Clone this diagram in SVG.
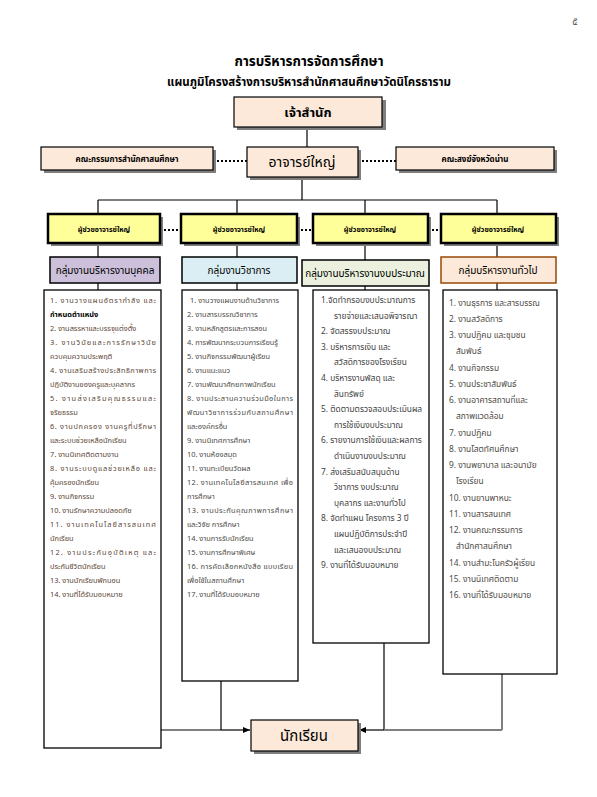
<svg xmlns="http://www.w3.org/2000/svg" width="597" height="797" viewBox="0 0 597 797">
<defs>
<style>
text{font-family:Tahoma,"Noto Sans Thai","Noto Sans","DejaVu Sans",sans-serif;}
.t{font-weight:bold;fill:#000;text-anchor:middle;}
.sh{fill:#7f7f7f;}
.peach{fill:#fde9d9;stroke:#000;stroke-width:1.2;}
.asst{fill:#ffff99;stroke:#000;stroke-width:2.5;}
.ln{stroke:#000;stroke-width:1.2;fill:none;}
.gl{stroke:#7f7f7f;stroke-width:2;fill:none;}
.dot{stroke:#000;stroke-width:2;stroke-dasharray:2 2;fill:none;}
.list{fill:#fff;stroke:#000;stroke-width:1.3;}
.c1{font-size:7.4px;fill:#5b4636;}
.c2{font-size:7.4px;fill:#4d4a46;}
.c3{font-size:8.4px;fill:#3f3f3f;}
.c4{font-size:8.4px;fill:#4f4a45;}
</style>
<marker id="ar" markerWidth="8" markerHeight="8" refX="7" refY="4" orient="auto" markerUnits="userSpaceOnUse">
<path d="M0,1 L7,4 L0,7 Z" fill="#000"/>
</marker>
</defs>
<rect width="597" height="797" fill="#fff"/>
<text x="575" y="25" style="font-size:10px;fill:#555;" text-anchor="middle">๕</text>
<text class="t" x="309" y="66" style="font-size:13.5px;">การบริหารการจัดการศึกษา</text>
<text class="t" x="309" y="86" style="font-size:11.5px;">แผนภูมิโครงสร้างการบริหารสำนักศาสนศึกษาวัดนิโครธาราม</text>

<g id="connectors">
<line class="ln" x1="307" y1="127" x2="307" y2="147"/>
<line class="dot" x1="213" y1="161" x2="247" y2="161"/>
<line class="dot" x1="358" y1="161" x2="396" y2="161"/>
<line class="ln" x1="302" y1="177" x2="302" y2="200"/>
<line class="ln" x1="98" y1="200" x2="497" y2="200"/>
<line class="ln" x1="98" y1="200" x2="98" y2="214"/>
<line class="ln" x1="237" y1="200" x2="237" y2="214"/>
<line class="ln" x1="365" y1="200" x2="365" y2="214"/>
<line class="ln" x1="497" y1="200" x2="497" y2="214"/>
<line class="dot" x1="160" y1="230" x2="181" y2="230"/>
<line class="dot" x1="297" y1="230" x2="313" y2="230"/>
<line class="dot" x1="428" y1="230" x2="441" y2="230"/>
<line class="ln" x1="98" y1="243" x2="98" y2="257"/>
<line class="ln" x1="237" y1="243" x2="237" y2="257"/>
<line class="ln" x1="365" y1="243" x2="365" y2="260"/>
<line class="ln" x1="497" y1="243" x2="497" y2="257"/>
<line class="ln" x1="98" y1="283" x2="98" y2="290"/>
<line class="ln" x1="237" y1="283" x2="237" y2="290"/>
<line class="ln" x1="365" y1="286" x2="365" y2="290"/>
<line class="ln" x1="497" y1="283" x2="497" y2="290"/>
<line class="gl" x1="161" y1="730" x2="221" y2="730"/>
<line class="ln" x1="221" y1="730" x2="250" y2="730" marker-end="url(#ar)"/>
<line class="ln" x1="221" y1="681" x2="221" y2="730"/>
<line class="ln" x1="384" y1="643" x2="384" y2="730"/>
<line class="gl" x1="502" y1="674" x2="502" y2="730"/>
<line class="gl" x1="502" y1="730" x2="384" y2="730"/>
<line class="ln" x1="384" y1="730" x2="359" y2="730" marker-end="url(#ar)"/>
</g>

<g id="head">
<rect class="sh" x="237" y="100" width="149" height="30"/>
<rect class="peach" x="234" y="97" width="148" height="30"/>
<text class="t" x="308" y="117" style="font-size:13px;">เจ้าสำนัก</text>
</g>
<g id="committee">
<rect class="sh" x="44" y="150" width="172" height="23"/>
<rect class="peach" x="41" y="147" width="172" height="23"/>
<text class="t" x="127" y="162" style="font-size:8px;">คณะกรรมการสำนักศาสนศึกษา</text>
</g>
<g id="principal">
<rect class="sh" x="250" y="150" width="111" height="30"/>
<rect class="peach" x="247" y="147" width="111" height="30"/>
<text class="t" x="302" y="167" style="font-size:14px;font-weight:normal;">อาจารย์ใหญ่</text>
</g>
<g id="sangha">
<rect class="sh" x="399" y="150" width="158" height="23"/>
<rect class="peach" x="396" y="147" width="158" height="23"/>
<text class="t" x="475" y="162" style="font-size:8px;">คณะสงฆ์จังหวัดน่าน</text>
</g>

<g id="asst1">
<rect class="sh" x="51" y="217" width="112" height="29"/>
<rect class="asst" x="48" y="214" width="112" height="29"/>
<text class="t" x="104" y="232" style="font-size:7px;">ผู้ช่วยอาจารย์ใหญ่</text>
</g>
<g id="asst2">
<rect class="sh" x="184" y="217" width="116" height="29"/>
<rect class="asst" x="181" y="214" width="116" height="29"/>
<text class="t" x="239" y="232" style="font-size:7px;">ผู้ช่วยอาจารย์ใหญ่</text>
</g>
<g id="asst3">
<rect class="sh" x="316" y="217" width="115" height="29"/>
<rect class="asst" x="313" y="214" width="115" height="29"/>
<text class="t" x="370" y="232" style="font-size:7px;">ผู้ช่วยอาจารย์ใหญ่</text>
</g>
<g id="asst4">
<rect class="sh" x="444" y="217" width="115" height="29"/>
<rect class="asst" x="441" y="214" width="115" height="29"/>
<text class="t" x="498" y="232" style="font-size:7px;">ผู้ช่วยอาจารย์ใหญ่</text>
</g>

<g id="grp1">
<rect x="50" y="257" width="110" height="26" fill="#ccc0da" stroke="#000" stroke-width="1.5"/>
<text class="t" x="105" y="274" style="font-size:10px;font-weight:normal;">กลุ่มงานบริหารงานบุคคล</text>
</g>
<g id="grp2">
<rect x="182" y="257" width="115" height="26" fill="#daeef3" stroke="#000" stroke-width="1.5"/>
<text class="t" x="239" y="274" style="font-size:10px;font-weight:normal;">กลุ่มงานวิชาการ</text>
</g>
<g id="grp3">
<rect x="302" y="260" width="127" height="26" fill="#ebf1de" stroke="#000" stroke-width="1.5"/>
<text class="t" x="365" y="277" style="font-size:10px;font-weight:normal;">กลุ่มงานบริหารงานงบประมาณ</text>
</g>
<g id="grp4">
<rect x="441" y="257" width="115" height="26" fill="#fde9d9" stroke="#984806" stroke-width="1.5"/>
<text class="t" x="498" y="274" style="font-size:10px;font-weight:normal;">กลุ่มบริหารงานทั่วไป</text>
</g>

<g id="list1">
<rect class="list" x="44" y="290" width="117" height="458"/>
<text class="c1" x="50" y="303" textLength="106" lengthAdjust="spacing">1. งานวางแผนอัตรากำลัง และ</text>
<text class="c1" x="50" y="317" style="font-weight:bold;fill:#000;">กำหนดตำแหน่ง</text>
<text class="c1" x="50" y="331">2. งานสรรหาและบรรจุแต่งตั้ง</text>
<text class="c1" x="50" y="345" textLength="106" lengthAdjust="spacing">3. งานวินัยและการรักษาวินัย</text>
<text class="c1" x="50" y="359">ควบคุมความประพฤติ</text>
<text class="c1" x="50" y="373" textLength="106" lengthAdjust="spacing">4. งานเสริมสร้างประสิทธิภาพการ</text>
<text class="c1" x="50" y="387">ปฏิบัติงานของครูและบุคลากร</text>
<text class="c1" x="50" y="401" textLength="106" lengthAdjust="spacing">5. งานส่งเสริมคุณธรรมและ</text>
<text class="c1" x="50" y="415">จริยธรรม</text>
<text class="c1" x="50" y="429" textLength="106" lengthAdjust="spacing">6. งานปกครอง งานครูที่ปรึกษา</text>
<text class="c1" x="50" y="443">และระบบช่วยเหลือนักเรียน</text>
<text class="c1" x="50" y="457">7. งานนิเทศติดตามงาน</text>
<text class="c1" x="50" y="471" textLength="106" lengthAdjust="spacing">8. งานระบบดูแลช่วยเหลือ และ</text>
<text class="c1" x="50" y="485">คุ้มครองนักเรียน</text>
<text class="c1" x="50" y="499">9. งานกิจกรรม</text>
<text class="c1" x="50" y="513">10. งานรักษาความปลอดภัย</text>
<text class="c1" x="50" y="527" textLength="106" lengthAdjust="spacing">11. งานเทคโนโลยีสารสนเทศ</text>
<text class="c1" x="50" y="541">นักเรียน</text>
<text class="c1" x="50" y="555" textLength="106" lengthAdjust="spacing">12. งานประกันอุบัติเหตุ และ</text>
<text class="c1" x="50" y="569">ประกันชีวิตนักเรียน</text>
<text class="c1" x="50" y="583">13. งานนักเรียนพักนอน</text>
<text class="c1" x="50" y="597">14. งานที่ได้รับมอบหมาย</text>
</g>

<g id="list2">
<rect class="list" x="182" y="290" width="116" height="391"/>
<text class="c2" x="190" y="303">1. งานวางแผนงานด้านวิชาการ</text>
<text class="c2" x="187" y="317">2. งานสารบรรณวิชาการ</text>
<text class="c2" x="187" y="331">3. งานหลักสูตรและการสอน</text>
<text class="c2" x="187" y="345">4. การพัฒนากระบวนการเรียนรู้</text>
<text class="c2" x="187" y="359">5. งานกิจกรรมพัฒนาผู้เรียน</text>
<text class="c2" x="187" y="373">6. งานแนะแนว</text>
<text class="c2" x="187" y="387">7. งานพัฒนาศักยภาพนักเรียน</text>
<text class="c2" x="187" y="401" textLength="106" lengthAdjust="spacing">8. งานประสานความร่วมมือในการ</text>
<text class="c2" x="187" y="415" textLength="106" lengthAdjust="spacing">พัฒนาวิชาการร่วมกับสถานศึกษา</text>
<text class="c2" x="187" y="429">และองค์กรอื่น</text>
<text class="c2" x="187" y="443">9. งานนิเทศการศึกษา</text>
<text class="c2" x="187" y="457">10. งานห้องสมุด</text>
<text class="c2" x="187" y="471">11. งานทะเบียนวัดผล</text>
<text class="c2" x="187" y="485" textLength="106" lengthAdjust="spacing">12. งานเทคโนโลยีสารสนเทศ เพื่อ</text>
<text class="c2" x="187" y="499">การศึกษา</text>
<text class="c2" x="187" y="513" textLength="106" lengthAdjust="spacing">13. งานประกันคุณภาพการศึกษา</text>
<text class="c2" x="187" y="527">และวิจัย การศึกษา</text>
<text class="c2" x="187" y="541">14. งานการรับนักเรียน</text>
<text class="c2" x="187" y="555">15. งานการศึกษาพิเศษ</text>
<text class="c2" x="187" y="569" textLength="106" lengthAdjust="spacing">16. การคัดเลือกหนังสือ แบบเรียน</text>
<text class="c2" x="187" y="583">เพื่อใช้ในสถานศึกษา</text>
<text class="c2" x="187" y="597">17. งานที่ได้รับมอบหมาย</text>
</g>

<g id="list3">
<rect class="list" x="313" y="290" width="116" height="353"/>
<text class="c3" x="321" y="303">1.จัดทำกรอบงบประมาณการ</text>
<text class="c3" x="334" y="319">รายจ่ายและเสนอพิจารณา</text>
<text class="c3" x="321" y="334">2. จัดสรรงบประมาณ</text>
<text class="c3" x="321" y="350">3. บริหารการเงิน และ</text>
<text class="c3" x="334" y="365">สวัสดิการของโรงเรียน</text>
<text class="c3" x="321" y="381">4. บริหารงานพัสดุ และ</text>
<text class="c3" x="334" y="397">สินทรัพย์</text>
<text class="c3" x="321" y="412">5. ติดตามตรวจสอบประเมินผล</text>
<text class="c3" x="334" y="428">การใช้เงินงบประมาณ</text>
<text class="c3" x="321" y="443">6. รายงานการใช้เงินและผลการ</text>
<text class="c3" x="334" y="459">ดำเนินงานงบประมาณ</text>
<text class="c3" x="321" y="475">7. ส่งเสริมสนับสนุนด้าน</text>
<text class="c3" x="334" y="490">วิชาการ งบประมาณ</text>
<text class="c3" x="334" y="506">บุคลากร และงานทั่วไป</text>
<text class="c3" x="321" y="521">8. จัดทำแผน โครงการ 3 ปี</text>
<text class="c3" x="334" y="537">แผนปฏิบัติการประจำปี</text>
<text class="c3" x="334" y="553">และเสนองบประมาณ</text>
<text class="c3" x="321" y="568">9. งานที่ได้รับมอบหมาย</text>
</g>

<g id="list4">
<rect class="list" x="443" y="290" width="114" height="384"/>
<text class="c4" x="449" y="306">1. งานธุรการ และสารบรรณ</text>
<text class="c4" x="449" y="322">2. งานสวัสดิการ</text>
<text class="c4" x="449" y="338">3. งานปฏิคม และชุมชน</text>
<text class="c4" x="456" y="354">สัมพันธ์</text>
<text class="c4" x="449" y="371">4. งานกิจกรรม</text>
<text class="c4" x="449" y="387">5. งานประชาสัมพันธ์</text>
<text class="c4" x="449" y="403">6. งานอาคารสถานที่และ</text>
<text class="c4" x="456" y="419">สภาพแวดล้อม</text>
<text class="c4" x="449" y="436">7. งานปฏิคม</text>
<text class="c4" x="449" y="452">8. งานโสตทัศนศึกษา</text>
<text class="c4" x="449" y="468">9. งานพยาบาล และอนามัย</text>
<text class="c4" x="456" y="484">โรงเรียน</text>
<text class="c4" x="449" y="501">10. งานยานพาหนะ</text>
<text class="c4" x="449" y="517">11. งานสารสนเทศ</text>
<text class="c4" x="449" y="533">12. งานคณะกรรมการ</text>
<text class="c4" x="456" y="549">สำนักศาสนศึกษา</text>
<text class="c4" x="449" y="566">14. งานสำมะโนครัวผู้เรียน</text>
<text class="c4" x="449" y="582">15. งานนิเทศติดตาม</text>
<text class="c4" x="449" y="598">16. งานที่ได้รับมอบหมาย</text>
</g>

<g id="student">
<rect class="sh" x="254" y="723" width="107" height="31"/>
<rect class="peach" x="251" y="720" width="107" height="31"/>
<text class="t" x="304" y="741" style="font-size:15px;font-weight:normal;">นักเรียน</text>
</g>
</svg>
